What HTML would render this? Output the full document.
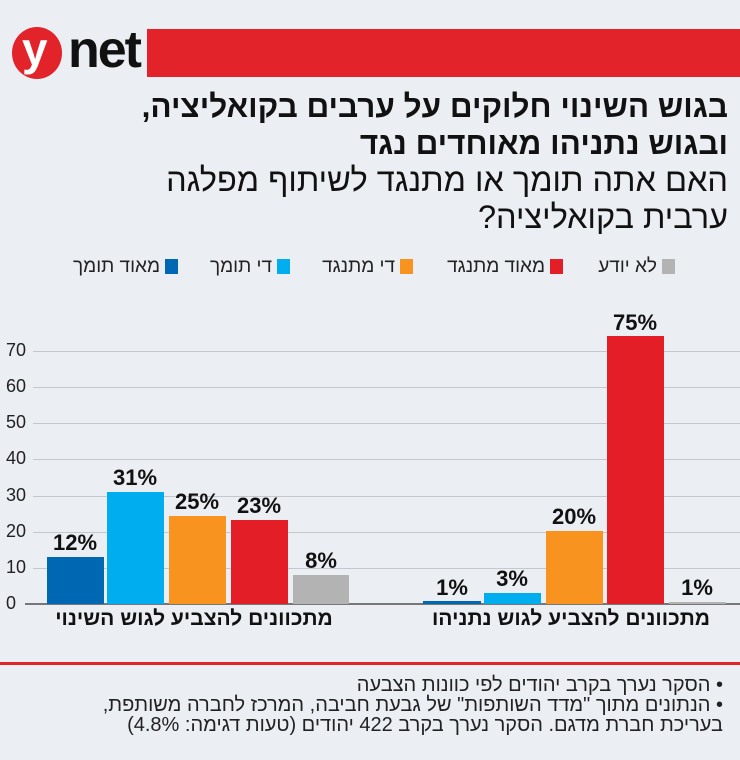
<!DOCTYPE html>
<html><head><meta charset="utf-8"><style>
body{margin:0;width:740px;height:760px;background:#ebeef3;position:relative;overflow:hidden;font-family:"Liberation Sans","Noto Sans CJK SC",sans-serif;}
.a{position:absolute;}
.r{direction:rtl;text-align:right;}
.g{position:absolute;left:33px;width:707px;height:1px;background:#c4c8ce;}
.yl{position:absolute;left:6px;font-size:18px;color:#222;}
.b{position:absolute;}
.v{position:absolute;font-size:22px;font-weight:bold;color:#111;text-align:center;width:80px;}
.lg{position:absolute;top:256px;font-size:19px;color:#222;direction:rtl;white-space:nowrap;}
.sq{display:inline-block;width:13px;height:15px;vertical-align:-2px;margin-left:5px;}
</style></head><body>
<div class="a" style="left:12px;top:27px;width:50px;height:52px;border-radius:50%;background:#e2232a;"></div>
<div class="a" style="left:22px;top:22px;font-size:46px;color:#fff;font-weight:bold;">y</div>
<div class="a" style="left:68px;top:20px;font-size:52px;color:#111;font-weight:bold;letter-spacing:-2px;">net</div>
<div class="a" style="left:147px;top:29px;width:593px;height:48px;background:#e2232a;"></div>
<div class="a r" style="right:12px;top:88px;width:720px;font-size:31.5px;font-weight:bold;line-height:37px;color:#111;">בגוש השינוי חלוקים על ערבים בקואליציה,<br>ובגוש נתניהו מאוחדים נגד</div>
<div class="a r" style="right:12px;top:162px;width:720px;font-size:32.5px;line-height:37px;color:#111;">האם אתה תומך או מתנגד לשיתוף מפלגה<br>ערבית בקואליציה?</div>
<div class="lg" style="right:65px;"><span class="sq" style="background:#b3b3b3"></span>לא יודע</div>
<div class="lg" style="right:177px;"><span class="sq" style="background:#e41e26"></span>מאוד מתנגד</div>
<div class="lg" style="right:327px;"><span class="sq" style="background:#f7931e"></span>די מתנגד</div>
<div class="lg" style="right:450px;"><span class="sq" style="background:#00aeef"></span>די תומך</div>
<div class="lg" style="right:562px;"><span class="sq" style="background:#0068b3"></span>מאוד תומך</div>
<div class="g" style="top:351px"></div><div class="g" style="top:387px"></div><div class="g" style="top:423px"></div><div class="g" style="top:459px"></div><div class="g" style="top:496px"></div><div class="g" style="top:532px"></div><div class="g" style="top:568px"></div>
<div class="a" style="left:25px;top:603px;width:715px;height:2px;background:#777;"></div>
<div class="yl" style="top:340px">70</div><div class="yl" style="top:376px">60</div><div class="yl" style="top:412px">50</div><div class="yl" style="top:448px">40</div><div class="yl" style="top:485px">30</div><div class="yl" style="top:521px">20</div><div class="yl" style="top:557px">10</div><div class="yl" style="top:593px">0</div>
<div class="b" style="left:47px;top:557px;width:57px;height:47px;background:#0068b3"></div>
<div class="b" style="left:107px;top:492px;width:57px;height:112px;background:#00aeef"></div>
<div class="b" style="left:169px;top:516px;width:57px;height:88px;background:#f7931e"></div>
<div class="b" style="left:231px;top:520px;width:57px;height:84px;background:#e41e26"></div>
<div class="b" style="left:293px;top:575px;width:56px;height:29px;background:#b3b3b3"></div>
<div class="v" style="left:35px;top:530px">12%</div>
<div class="v" style="left:95px;top:465px">31%</div>
<div class="v" style="left:157px;top:489px">25%</div>
<div class="v" style="left:219px;top:493px">23%</div>
<div class="v" style="left:281px;top:548px">8%</div>
<div class="b" style="left:423px;top:601px;width:58px;height:3px;background:#0068b3"></div>
<div class="b" style="left:484px;top:593px;width:57px;height:11px;background:#00aeef"></div>
<div class="b" style="left:546px;top:531px;width:57px;height:73px;background:#f7931e"></div>
<div class="b" style="left:607px;top:336px;width:57px;height:268px;background:#e41e26"></div>
<div class="b" style="left:669px;top:602px;width:57px;height:2px;background:#b3b3b3"></div>
<div class="v" style="left:412px;top:575px">1%</div>
<div class="v" style="left:472px;top:566px">3%</div>
<div class="v" style="left:534px;top:504px">20%</div>
<div class="v" style="left:595px;top:310px">75%</div>
<div class="v" style="left:657px;top:575px">1%</div>
<div class="a r" style="left:30px;width:328px;top:607px;font-size:21px;font-weight:bold;color:#111;text-align:center;">מתכוונים להצביע לגוש השינוי</div>
<div class="a r" style="left:402px;width:338px;top:607px;font-size:21px;font-weight:bold;color:#111;text-align:center;">מתכוונים להצביע לגוש נתניהו</div>
<div class="a" style="left:0;top:662px;width:740px;height:3px;background:#e2232a;"></div>
<div class="a r" style="right:17px;top:675px;width:720px;font-size:20px;line-height:20px;color:#222;">• הסקר נערך בקרב יהודים לפי כוונות הצבעה<br>• הנתונים מתוך "מדד השותפות" של גבעת חביבה, המרכז לחברה משותפת,<br>בעריכת חברת מדגם. הסקר נערך בקרב 422 יהודים (טעות דגימה: 4.8%)</div>
</body></html>
